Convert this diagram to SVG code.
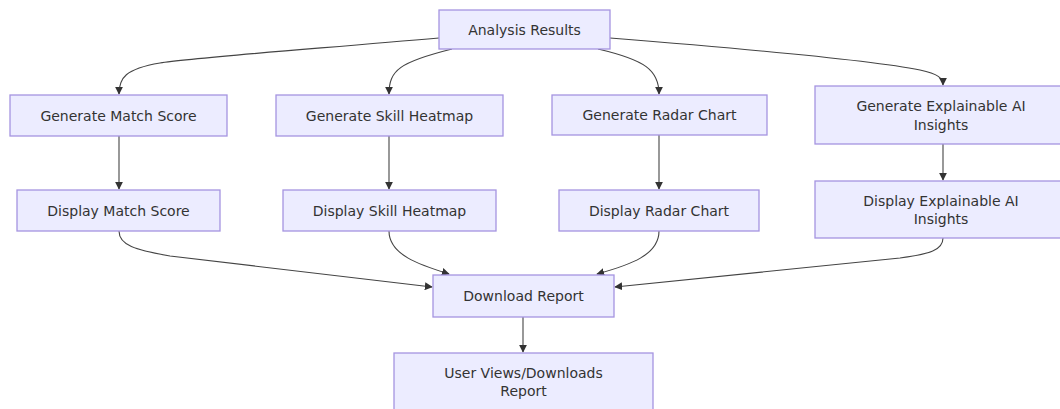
<svg xmlns="http://www.w3.org/2000/svg" width="1060" height="409" viewBox="0 0 1060 409">
<style>
.node rect{fill:#ECECFF;stroke:#a594e0;stroke-width:1.3}
.node text{font-family:"DejaVu Sans",Verdana,sans-serif;font-size:14px;fill:#333;text-anchor:middle;dominant-baseline:central}
.edges path{fill:none;stroke:#444;stroke-width:1.1}
</style>
<defs>
<marker id="arr" markerUnits="userSpaceOnUse" markerWidth="8" markerHeight="8" viewBox="0 0 10 10" refX="9" refY="5" orient="auto">
<path d="M0,0 L10,5 L0,10 z" fill="#333"/>
</marker>
</defs>
<rect width="1060" height="409" fill="#ffffff"/>
<g class="edges">
<path d="M439,38 C300,50 190,58 160,63 C125,69 119,78 119,94" marker-end="url(#arr)"/>
<path d="M452,49 C400,62 389,70 389,94" marker-end="url(#arr)"/>
<path d="M598,49 C645,60 659,70 659,94" marker-end="url(#arr)"/>
<path d="M610,38 C760,50 880,62 920,70 C938,74 943,78 943,85" marker-end="url(#arr)"/>
<path d="M119,136 L119,189" marker-end="url(#arr)"/>
<path d="M389,136 L389,189" marker-end="url(#arr)"/>
<path d="M659,135 L659,189" marker-end="url(#arr)"/>
<path d="M943,144 L943,180" marker-end="url(#arr)"/>
<path d="M119,231 C119,245 135,250 170,256 L432,287" marker-end="url(#arr)"/>
<path d="M389,231 C389,255 420,265 449,274" marker-end="url(#arr)"/>
<path d="M659,231 C659,255 630,265 597,274" marker-end="url(#arr)"/>
<path d="M943,238 C943,250 930,254 900,258 L615,287" marker-end="url(#arr)"/>
<path d="M523,317 L523,352" marker-end="url(#arr)"/>
</g>
<g id="analysis" class="node"><rect x="439" y="10" width="171" height="39"/><text x="524.5" y="29.5">Analysis Results</text></g>
<g id="genMatch" class="node"><rect x="10" y="95" width="217" height="41"/><text x="118.5" y="115.5">Generate Match Score</text></g>
<g id="genSkill" class="node"><rect x="276" y="95" width="227" height="41"/><text x="389.5" y="115.5">Generate Skill Heatmap</text></g>
<g id="genRadar" class="node"><rect x="552" y="95" width="215" height="40"/><text x="659.5" y="115">Generate Radar Chart</text></g>
<g id="genXAI" class="node"><rect x="815" y="86" width="255" height="58"/><text x="941" y="106">Generate Explainable AI</text><text x="941" y="125">Insights</text></g>
<g id="dispMatch" class="node"><rect x="17" y="190" width="203" height="41"/><text x="118.5" y="210.5">Display Match Score</text></g>
<g id="dispSkill" class="node"><rect x="283" y="190" width="213" height="41"/><text x="389.5" y="210.5">Display Skill Heatmap</text></g>
<g id="dispRadar" class="node"><rect x="559" y="190" width="200" height="41"/><text x="659" y="210.5">Display Radar Chart</text></g>
<g id="dispXAI" class="node"><rect x="815" y="181" width="255" height="57"/><text x="941" y="201">Display Explainable AI</text><text x="941" y="219">Insights</text></g>
<g id="download" class="node"><rect x="433" y="275" width="181" height="42"/><text x="523.5" y="296">Download Report</text></g>
<g id="userViews" class="node"><rect x="394" y="353" width="259" height="70"/><text x="523.5" y="373">User Views/Downloads</text><text x="523.5" y="391">Report</text></g>
</svg>
